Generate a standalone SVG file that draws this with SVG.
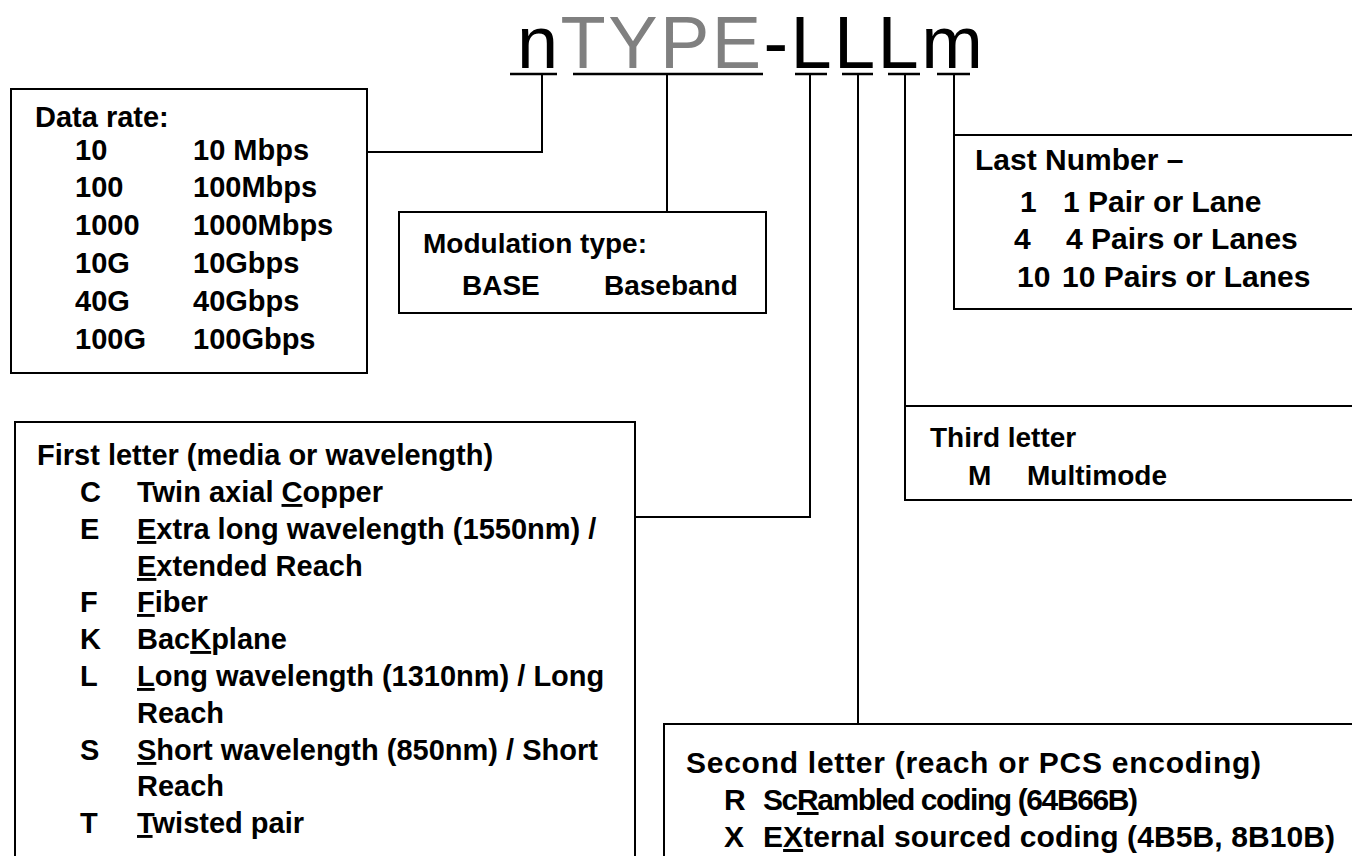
<svg xmlns="http://www.w3.org/2000/svg" width="1352" height="856" viewBox="0 0 1352 856">
<style>
.bg{fill:#fff}
.box{fill:none;stroke:#000;stroke-width:2}
.ln{fill:none;stroke:#000;stroke-width:2}
.ul{fill:none;stroke:#000;stroke-width:2.5}
.t{font-family:"Liberation Sans",Arial,sans-serif;font-weight:bold;font-size:29px;fill:#000}
.s28{font-size:28px}
.s30{font-size:30px}
.ttl{font-family:"Liberation Sans",Arial,sans-serif;font-size:74px;fill:#000;letter-spacing:2.4px}
.g{fill:#808080}
.u{text-decoration:underline}
</style>
<rect class="bg" x="0" y="0" width="1352" height="856"/>
<g id="title">
<text class="ttl" x="517" y="68">n<tspan class="g">TYPE</tspan>-LLLm</text>
</g>
<g id="connectors">
<path class="ul" d="M510 74H557 M573 74H763 M795 74H827 M842 74H873 M888 74H920 M937 74H970"/>
<path class="ln" d="M542 74V152H367"/>
<path class="ln" d="M667 74V212"/>
<path class="ln" d="M810 74V517H635"/>
<path class="ln" d="M858 74V724"/>
<path class="ln" d="M905 74V406"/>
<path class="ln" d="M954 74V135"/>
</g>
<g id="data-rate">
<rect class="box" x="11" y="89" width="356" height="284"/>
<text class="t" x="35" y="127">Data rate:</text>
<text class="t" x="75" y="160">10</text><text class="t" x="193" y="160">10 Mbps</text>
<text class="t" x="75" y="197">100</text><text class="t" x="193" y="197">100Mbps</text>
<text class="t" x="75" y="235">1000</text><text class="t" x="193" y="235">1000Mbps</text>
<text class="t" x="75" y="273">10G</text><text class="t" x="193" y="273">10Gbps</text>
<text class="t" x="75" y="311">40G</text><text class="t" x="193" y="311">40Gbps</text>
<text class="t" x="75" y="349">100G</text><text class="t" x="193" y="349">100Gbps</text>
</g>
<g id="modulation">
<rect class="box" x="399" y="212" width="367" height="101"/>
<text class="t s28" x="423" y="253">Modulation type:</text>
<text class="t s28" x="462" y="295">BASE</text>
<text class="t s28" x="604" y="295">Baseband</text>
</g>
<g id="last-number">
<rect class="box" x="954" y="135" width="410" height="174"/>
<text class="t s30" x="975" y="170">Last Number –</text>
<text class="t s30" x="1020" y="212">1</text><text class="t s30" x="1063" y="212">1 Pair or Lane</text>
<text class="t s30" x="1014" y="249">4</text><text class="t s30" x="1066" y="249">4 Pairs or Lanes</text>
<text class="t s30" x="1017" y="287">10</text><text class="t s30" x="1062" y="287">10 Pairs or Lanes</text>
</g>
<g id="third-letter">
<rect class="box" x="905" y="406" width="460" height="94"/>
<text class="t s28" x="930" y="447">Third letter</text>
<text class="t s28" x="968" y="485">M</text>
<text class="t s28" x="1027" y="485">Multimode</text>
</g>
<g id="first-letter">
<rect class="box" x="15" y="422" width="620" height="460"/>
<text class="t" x="37" y="465">First letter (media or wavelength)</text>
<text class="t" x="80" y="502">C</text><text class="t" x="137" y="502">Twin axial <tspan class="u">C</tspan>opper</text>
<text class="t" x="80" y="539">E</text><text class="t" x="137" y="539"><tspan class="u">E</tspan>xtra long wavelength (1550nm) /</text>
<text class="t" x="137" y="576"><tspan class="u">E</tspan>xtended Reach</text>
<text class="t" x="80" y="612">F</text><text class="t" x="137" y="612"><tspan class="u">F</tspan>iber</text>
<text class="t" x="80" y="649">K</text><text class="t" x="137" y="649">Bac<tspan class="u">K</tspan>plane</text>
<text class="t" x="80" y="686">L</text><text class="t" x="137" y="686"><tspan class="u">L</tspan>ong wavelength (1310nm) / Long</text>
<text class="t" x="137" y="723">Reach</text>
<text class="t" x="80" y="760">S</text><text class="t" x="137" y="760"><tspan class="u">S</tspan>hort wavelength (850nm) / Short</text>
<text class="t" x="137" y="796">Reach</text>
<text class="t" x="80" y="833">T</text><text class="t" x="137" y="833"><tspan class="u">T</tspan>wisted pair</text>
</g>
<g id="second-letter">
<rect class="box" x="664" y="724" width="700" height="150"/>
<text class="t s30" x="686" y="773" textLength="575">Second letter (reach or PCS encoding)</text>
<text class="t s30" x="724" y="810">R</text><text class="t s30" x="763" y="810" textLength="375">Sc<tspan class="u">R</tspan>ambled coding (64B66B)</text>
<text class="t s30" x="724" y="847">X</text><text class="t s30" x="763" y="847" textLength="572">E<tspan class="u">X</tspan>ternal sourced coding (4B5B, 8B10B)</text>
</g>
</svg>
